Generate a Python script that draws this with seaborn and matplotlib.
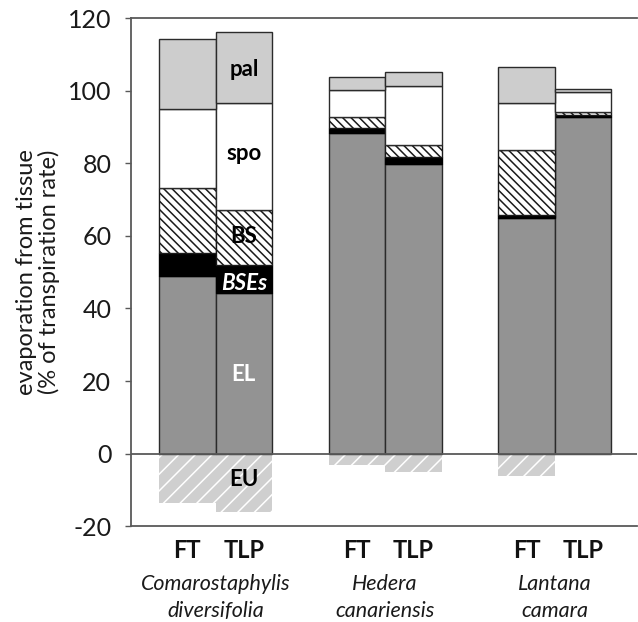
import numpy as np
import pandas as pd
import matplotlib
matplotlib.use("Agg")
import matplotlib.pyplot as plt
import seaborn as sns

# Bars: FT and TLP for each species
species = ["Comarostaphylis\ndiversifolia", "Hedera\ncanariensis", "Lantana\ncamara"]
states = ["FT", "TLP", "FT", "TLP", "FT", "TLP"]
positions = [0, 1, 3, 4, 6, 7]

# Evaporation from each tissue (% of transpiration rate), stacked bottom to top
el = [49.0, 44.3, 88.2, 79.8, 64.9, 92.6]      # epidermis, lower
bses = [6.3, 7.7, 1.4, 2.0, 0.9, 0.7]          # bundle sheath extensions
bs = [17.9, 15.2, 3.0, 3.2, 17.9, 0.9]         # bundle sheath
spo = [21.8, 29.4, 7.6, 16.2, 12.9, 5.3]       # spongy mesophyll
pal = [19.2, 19.6, 3.5, 4.0, 10.0, 0.9]        # palisade mesophyll
eu = [-13.5, -16.0, -3.0, -5.0, -6.1, 0.0]     # epidermis, upper

layers = [
    ("EL", el, dict(color="#939393", edgecolor="#2b2b2b", linewidth=1.0)),
    ("BSEs", bses, dict(color="#000000", edgecolor="#000000", linewidth=1.0)),
    ("BS", bs, dict(color="white", edgecolor="#1a1a1a", linewidth=1.0, hatch="\\\\\\\\")),
    ("spo", spo, dict(color="white", edgecolor="#2b2b2b", linewidth=1.0)),
    ("pal", pal, dict(color="#cdcdcd", edgecolor="#2b2b2b", linewidth=1.0)),
]

sns.set_theme(style="white")
plt.rcParams["font.family"] = ["Lato", "DejaVu Sans"]
plt.rcParams["hatch.linewidth"] = 1.1
plt.rcParams["axes.unicode_minus"] = False

fig = plt.figure(figsize=(6.38, 6.22), dpi=100)
ax = fig.add_axes([0.205, 0.154, 0.793, 0.817])

# Upper epidermis: negative bars, light grey with white hatching
df_eu = pd.DataFrame({"pos": positions, "value": eu})
sns.barplot(data=df_eu, x="pos", y="value", native_scale=True, width=1.0,
            errorbar=None, color="#cfcfcf", saturation=1, edgecolor="white",
            linewidth=0, hatch="//", ax=ax)

bottom = np.zeros(len(positions))
for name, vals, style in layers:
    df = pd.DataFrame({"pos": positions, "value": vals})
    sns.barplot(data=df, x="pos", y="value", native_scale=True, width=1.0,
                errorbar=None, saturation=1, bottom=bottom, ax=ax, **style)
    bottom = bottom + np.array(vals)

axis_col = "#595959"
ax.axhline(0, color=axis_col, linewidth=1.3, zorder=5)
ax.set_xlim(-1.0, 7.95)
ax.set_ylim(-20, 120)
ax.set_yticks(np.arange(-20, 121, 20))
ax.tick_params(axis="y", labelsize=18, length=4, width=1, color=axis_col,
               left=True, pad=10, labelcolor="#1a1a1a")
ax.set_xticks(positions)
ax.set_xticklabels(states, fontsize=17, fontweight="bold", color="#111111")
ax.tick_params(axis="x", length=0, pad=9)
ax.set_xlabel("")
ax.set_ylabel("evaporation from tissue\n(% of transpiration rate)", fontsize=17,
              color="#1a1a1a", labelpad=6, linespacing=1.05)

for side in ["left", "top", "bottom"]:
    ax.spines[side].set_visible(True)
    ax.spines[side].set_color(axis_col)
    ax.spines[side].set_linewidth(1.3)
ax.spines["right"].set_visible(False)

# Species names under each pair of bars
trans = ax.get_xaxis_transform()
for i, name in enumerate(species):
    cx = (positions[2 * i] + positions[2 * i + 1]) / 2
    ax.text(cx, -0.095, name, transform=trans, ha="center", va="top",
            fontsize=15.5, fontstyle="italic", color="#1a1a1a", linespacing=1.38)

# Tissue labels on the Comarostaphylis TLP bar
lx = positions[1]
ax.text(lx, 105.7, "pal", ha="center", va="center", fontsize=16, fontweight="bold", color="black")
ax.text(lx, 82.8, "spo", ha="center", va="center", fontsize=16, fontweight="bold", color="black")
ax.text(lx, 59.7, "BS", ha="center", va="center", fontsize=16, fontweight="bold", color="black")
ax.text(lx, 47.0, "BSEs", ha="center", va="center", fontsize=16, fontweight="bold",
        fontstyle="italic", color="white")
ax.text(lx, 21.7, "EL", ha="center", va="center", fontsize=16, fontweight="bold", color="white")
ax.text(lx, -7.2, "EU", ha="center", va="center", fontsize=16, fontweight="bold", color="black")

fig.savefig("out.png", dpi=100)
